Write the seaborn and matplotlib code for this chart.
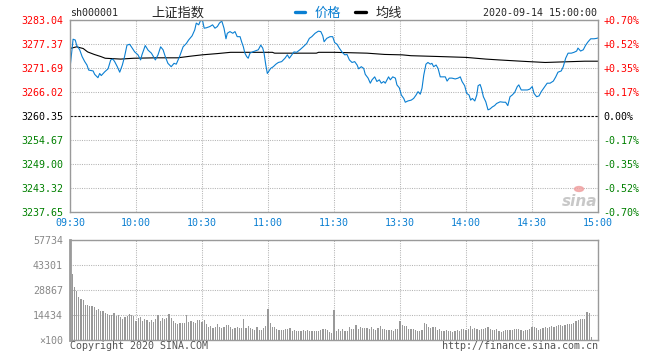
import matplotlib
matplotlib.use("Agg")
import matplotlib.pyplot as plt
from matplotlib.lines import Line2D
import numpy as np
import pandas as pd
import seaborn as sns

# ---------------- data ----------------
prev_close = 3260.35
left_ticks = [3283.04, 3277.37, 3271.69, 3266.02, 3260.35, 3254.67, 3249.00, 3243.32, 3237.65]
right_labels = ["+0.70%", "+0.52%", "+0.35%", "+0.17%", "0.00%", "-0.17%", "-0.35%", "-0.52%", "-0.70%"]
time_ticks = [0, 30, 60, 90, 120, 150, 180, 210, 240]
time_labels = ["09:30", "10:00", "10:30", "11:00", "11:30", "13:30", "14:00", "14:30", "15:00"]
vol_ticks = [0, 14434, 28867, 43301, 57734]
vol_labels = ["×100", "14434", "28867", "43301", "57734"]

price_minute = [0, 1.4, 2.4, 3.0, 4.4, 5.5, 6.7, 7.7, 8.5, 10.5, 11.2, 12.7, 13.5, 14.2, 15.8, 17.3,
                18.5, 19.5, 20.3, 21.5, 22.6, 23.8, 24.8, 25.9, 27.1, 27.9, 29.4, 30.9, 32.1, 32.7,
                34.2, 35.5, 37.0, 38.8, 40.0, 41.2, 42.3, 43.3, 44.5, 46.0, 47.3, 48.3, 49.8, 51.4,
                52.9, 53.9, 55.5, 56.7, 57.4, 58.5, 59.4, 60.3, 61.0, 62.0, 63.6, 64.8, 65.9, 67.0,
                67.9, 69.0, 70.0, 70.9, 71.5, 72.7, 74.0, 75.0, 76.0, 77.3, 78.0, 78.8, 79.5, 80.3,
                81.0, 81.8, 83.0, 84.0, 85.6, 86.7, 87.6, 88.2, 89.0, 89.7, 90.1, 91.2, 92.4, 93.6,
                94.7, 96.2, 97.7, 98.8, 99.7, 100.8, 101.8, 103.0, 104.5, 106.0, 107.6, 108.8, 109.9,
                111.4, 112.9, 114.0, 114.9, 115.5, 116.7, 118.2, 119.4, 120.3, 121.4, 122.4, 123.6,
                124.9, 125.9, 127.0, 128.2, 129.4, 130.5, 131.2, 132.4, 133.5, 134.2, 135.5, 136.5,
                137.3, 138.5, 139.5, 140.6, 141.5, 142.6, 143.3, 144.8, 145.6, 146.7, 147.9, 148.6,
                149.7, 150.6, 151.7, 152.4, 153.6, 155.1, 156.2, 157.3, 158.2, 159.2, 160.0, 160.8,
                161.8, 162.7, 163.8, 164.5, 165.3, 166.4, 167.3, 168.3, 169.4, 170.6, 171.4, 172.4,
                173.6, 175.1, 176.4, 177.4, 178.2, 179.4, 180.3, 181.4, 182.1, 182.9, 184.0, 184.9,
                185.5, 186.4, 187.0, 187.9, 189.0, 190.0, 190.9, 192.0, 193.0, 193.9, 195.5, 197.0,
                198.0, 199.0, 200.0, 201.0, 202.1, 203.3, 204.0, 205.1, 206.4, 207.9, 209.0, 210.1,
                210.9, 212.1, 213.2, 214.2, 215.8, 216.9, 218.2, 219.7, 220.8, 221.8, 223.3, 224.2,
                225.3, 226.4, 227.9, 229.1, 230.3, 230.9, 232.1, 233.3, 234.4, 235.5, 236.7, 238.2,
                239.4, 240.0]
price_value = [3271.6, 3278.5, 3278.3, 3277.1, 3276.0, 3274.4, 3273.2, 3272.4, 3271.2, 3271.0, 3270.2,
               3269.4, 3270.4, 3269.9, 3270.8, 3271.5, 3273.6, 3273.8, 3273.2, 3272.0, 3270.7, 3272.4,
               3274.4, 3277.1, 3277.3, 3276.7, 3275.5, 3274.8, 3273.6, 3274.8, 3277.0, 3275.9, 3275.2,
               3273.6, 3274.8, 3276.7, 3276.0, 3274.4, 3272.8, 3272.0, 3272.8, 3272.6, 3274.4, 3276.7,
               3277.5, 3278.3, 3279.3, 3280.7, 3282.3, 3281.9, 3283.0, 3282.8, 3281.1, 3281.2, 3281.5,
               3281.9, 3281.1, 3281.5, 3282.3, 3282.8, 3281.1, 3278.6, 3279.9, 3280.3, 3279.9, 3280.3,
               3279.1, 3279.1, 3277.9, 3276.7, 3275.2, 3274.4, 3274.0, 3275.2, 3275.5, 3275.7, 3276.0,
               3277.1, 3276.4, 3275.2, 3272.4, 3270.4, 3270.7, 3271.6, 3272.0, 3272.6, 3273.0, 3273.2,
               3274.0, 3274.8, 3274.0, 3274.8, 3275.5, 3275.4, 3276.0, 3276.7, 3277.5, 3278.7, 3279.1,
               3279.9, 3280.4, 3280.3, 3279.3, 3277.9, 3278.7, 3279.1, 3279.1, 3277.7, 3277.3, 3276.4,
               3275.5, 3274.8, 3274.9, 3273.6, 3273.0, 3273.2, 3272.4, 3271.5, 3272.0, 3271.6, 3270.2,
               3269.3, 3268.1, 3268.9, 3269.6, 3268.5, 3268.9, 3268.1, 3268.5, 3268.1, 3269.6, 3268.9,
               3269.6, 3269.3, 3267.7, 3267.0, 3265.3, 3264.5, 3263.6, 3263.9, 3264.1, 3264.5, 3265.3,
               3266.1, 3265.5, 3266.9, 3270.0, 3272.6, 3273.0, 3272.6, 3272.8, 3272.0, 3272.4, 3271.6,
               3269.6, 3269.6, 3269.6, 3268.6, 3269.3, 3269.3, 3269.1, 3269.3, 3269.6, 3268.5, 3267.5,
               3265.7, 3265.3, 3264.1, 3264.5, 3263.9, 3265.3, 3267.5, 3267.8, 3266.9, 3264.9, 3263.7,
               3261.8, 3262.0, 3262.5, 3262.8, 3263.3, 3263.7, 3263.6, 3263.6, 3262.8, 3264.9, 3265.3,
               3265.9, 3267.3, 3267.7, 3266.5, 3266.5, 3266.5, 3266.7, 3267.3, 3265.7, 3264.9, 3265.1,
               3266.1, 3267.3, 3268.1, 3268.1, 3268.6, 3269.6, 3270.7, 3271.0, 3272.0, 3274.0, 3275.2,
               3275.2, 3275.4, 3275.7, 3276.4, 3275.7, 3276.0, 3277.1, 3277.9, 3278.6, 3278.6, 3278.7,
               3278.8]

avg_minute = [0, 3, 6, 8, 11, 14, 16, 23, 29, 39, 49, 55, 60, 67, 73, 92, 93, 112, 113, 120, 135,
              143, 151, 155, 168, 180, 189, 195, 205, 216, 234, 240]
avg_value = [3276.3, 3276.7, 3276.3, 3275.5, 3274.9, 3274.4, 3274.0, 3273.8, 3274.0, 3274.1, 3274.1,
             3274.5, 3274.8, 3275.1, 3275.4, 3275.4, 3275.2, 3275.2, 3275.4, 3275.4, 3275.2, 3274.9,
             3274.8, 3274.6, 3274.4, 3274.2, 3273.8, 3273.6, 3273.3, 3273.0, 3273.3, 3273.3]

volume = [57734, 38100, 30790, 28480, 25010, 23670, 23090, 20200, 20010, 19630,
          19630, 18850, 17320, 17890, 16930, 16740, 15390, 15010, 14430, 14430,
          15390, 13850, 14430, 13080, 11930, 13080, 14050, 15010, 14620, 13850,
          11160, 12510, 13080, 11160, 11930, 11550, 10390, 11550, 10580, 11930,
          14290, 11160, 12740, 11930, 12500, 14870, 12740, 10780, 10010, 9240,
          9620, 9620, 9620, 14290, 10390, 10780, 10200, 10010, 11550, 11550,
          10580, 11550, 9240, 7700, 8080, 7120, 7700, 9040, 7700, 7120,
          7700, 8470, 8470, 7700, 6540, 6930, 7310, 6730, 6730, 11930,
          6730, 8080, 7120, 6540, 5770, 7310, 5770, 5770, 6730, 8080,
          17700, 9620, 7700, 7700, 6160, 5770, 5770, 5770, 6160, 6540,
          6730, 5200, 5770, 5200, 5390, 5390, 5770, 5200, 5770, 5200,
          5200, 5390, 5390, 5390, 5770, 6540, 6160, 5770, 4620, 4230,
          17320,
          5390, 6350, 5390, 6350, 5390, 5390, 7700, 6160, 6540, 8660,
          6160, 7310, 6930, 6930, 6930, 6540, 7700, 6540, 5770, 6730,
          8080, 6540, 6160, 5770, 5770, 5770, 5390, 6350, 6540, 11160,
          8660, 8080, 8080, 6350, 6350, 6160, 5770, 5390, 5390, 5770,
          9620, 9240, 7700, 6730, 7310, 7700, 5770, 6540, 5000, 5390,
          5770, 5390, 5390, 4810, 5200, 5770, 5390, 6160, 6540, 5770,
          6350, 8080, 6540, 7120, 6160, 5770, 6540, 6160, 6730, 7310,
          6350, 5770, 5770, 6160, 5390, 4620, 5390, 5770, 5770, 5770,
          5770, 6160, 6540, 6160, 5770, 5390, 5770, 5770, 6540, 7310,
          7700, 6930, 5770, 6540, 6730, 7310, 6930, 7700, 8080, 7700,
          8080, 8470, 8470, 8080, 8850, 9240, 9430, 9430, 10000, 11160,
          11540, 11930, 11930, 11930, 16350, 15780, 1540, 0, 0, 0]

# ---------------- style ----------------
sns.set_style("white")
plt.rcParams["font.family"] = ["DejaVu Sans Mono", "Noto Sans CJK SC"]
plt.rcParams["axes.unicode_minus"] = False

BLUE = "#0a7fd2"
SPINE = "#9a9a9a"
GRID = "#b4b4b4"
FS = 7.2
W, H = 660, 360

fig = plt.figure(figsize=(6.6, 3.6), dpi=100)
ax = fig.add_axes([70 / W, 1 - 212 / H, 528 / W, 192 / H])
axv = fig.add_axes([70 / W, 1 - 340 / H, 528 / W, 100 / H])

price_df = pd.DataFrame({"minute": price_minute, "price": price_value})
avg_df = pd.DataFrame({"minute": avg_minute, "avg": avg_value})
vol_df = pd.DataFrame({"minute": np.arange(len(volume)), "vol": volume})

for a in (ax, axv):
    a.set_xlim(0, 240)
    a.set_xticks(time_ticks)
    a.grid(True, color=GRID, linestyle=(0, (1, 1.2)), linewidth=0.75)
    a.set_axisbelow(True)
    for s in a.spines.values():
        s.set_color(SPINE)
        s.set_linewidth(1.0)
    a.tick_params(length=0)

# price panel
sns.lineplot(data=avg_df, x="minute", y="avg", ax=ax, color="black", linewidth=0.8,
             estimator=None, sort=False)
sns.lineplot(data=price_df, x="minute", y="price", ax=ax, color=BLUE, linewidth=0.8,
             estimator=None, sort=False)
ax.axhline(prev_close, color="black", linestyle=(0, (2, 1.5)), linewidth=0.8, zorder=1.5)
ax.set_ylim(left_ticks[-1], left_ticks[0])
ax.set_yticks(left_ticks)
ax.set_yticklabels([f"{v:.2f}" for v in left_ticks], fontsize=FS)
ax.set_xticklabels(time_labels, fontsize=FS, color=BLUE)
ax.tick_params(axis="y", pad=5)
ax.tick_params(axis="x", pad=4)
ax.set_xlabel("")
ax.set_ylabel("")
label_colors = ["#ff0000"] * 4 + ["black"] + ["#008000"] * 4
for t, c in zip(ax.get_yticklabels(), label_colors):
    t.set_color(c)

axr = ax.twinx()
axr.set_ylim(left_ticks[-1], left_ticks[0])
axr.set_yticks(left_ticks)
axr.set_yticklabels(right_labels, fontsize=FS)
axr.tick_params(length=0, pad=4)
for s in axr.spines.values():
    s.set_visible(False)
for t, c in zip(axr.get_yticklabels(), label_colors):
    t.set_color(c)

# volume panel
sns.barplot(data=vol_df, x="minute", y="vol", ax=axv, native_scale=True, color="#999999",
            saturation=1, width=0.6, errorbar=None, linewidth=0)
axv.set_xlim(0, 240)
axv.set_xticks(time_ticks)
axv.set_xticklabels([])
axv.set_ylim(0, vol_ticks[-1])
axv.set_yticks(vol_ticks)
axv.set_yticklabels(vol_labels, fontsize=FS, color="#888888")
axv.tick_params(axis="y", pad=5)
axv.set_xlabel("")
axv.set_ylabel("")
axv.grid(True, color=GRID, linestyle=(0, (1, 1.2)), linewidth=0.75)
axv.spines["left"].set_linewidth(2.0)

# header
fig.text(70 / W, 1 - 13 / H, "sh000001", fontsize=FS, va="center", ha="left")
fig.text(151 / W, 1 - 13 / H, "上证指数", fontsize=9.5, va="center", ha="left",
         family=["Noto Sans CJK SC"])
fig.add_artist(Line2D([295 / W, 305 / W], [1 - 12 / H, 1 - 12 / H], color=BLUE, linewidth=2.4,
                      transform=fig.transFigure))
fig.text(315 / W, 1 - 13 / H, "价格", fontsize=9.5, va="center", ha="left", color=BLUE,
         family=["Noto Sans CJK SC"])
fig.add_artist(Line2D([355 / W, 366 / W], [1 - 12 / H, 1 - 12 / H], color="black", linewidth=2.4,
                      transform=fig.transFigure))
fig.text(376 / W, 1 - 13 / H, "均线", fontsize=9.5, va="center", ha="left",
         family=["Noto Sans CJK SC"])
fig.text(597 / W, 1 - 13 / H, "2020-09-14 15:00:00", fontsize=FS, va="center", ha="right")

# footer
fig.text(70 / W, 1 - 346 / H, "Copyright 2020 SINA.COM", fontsize=FS, va="center", ha="left",
         color="#555555")
fig.text(598 / W, 1 - 346 / H, "http://finance.sina.com.cn", fontsize=FS, va="center",
         ha="right", color="#555555")

# watermark
fig.text(580 / W, 1 - 201 / H, "sina", fontsize=11, fontweight="bold", fontstyle="italic",
         color="#c8c8c8", ha="center", va="center", family=["DejaVu Sans"])
fig.add_artist(plt.Circle((579 / W, 1 - 189 / H), 4.5 / W, transform=fig.transFigure,
                          color="#f0a0a0", alpha=0.8))

fig.savefig("out.png", dpi=100)
